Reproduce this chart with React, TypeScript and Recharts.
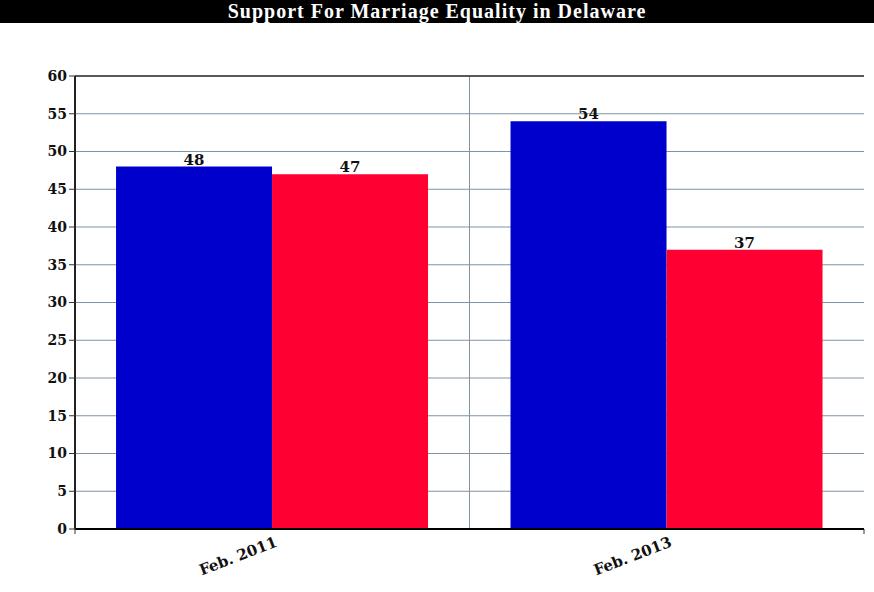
import React from 'react';
import { BarChart, Bar, XAxis, YAxis, CartesianGrid, LabelList, ReferenceLine } from 'recharts';

const periods = ['Feb. 2011', 'Feb. 2013'];
const support = [48, 54];
const oppose = [47, 37];
const yTicks = [0, 5, 10, 15, 20, 25, 30, 35, 40, 45, 50, 55, 60];
const boundaryTicks = [0, 1, 2];

const FONT = '"DejaVu Serif", Georgia, serif';

const data = periods.map((p, i) => ({ period: p, support: support[i], oppose: oppose[i] }));

// rotated category label, anchored by its end at the category centre
function PeriodTick(props: any) {
  const { x, y, payload } = props;
  return (
    <g transform={`translate(${x + 6},${y + 1})`}>
      <text
        textAnchor="end"
        transform="rotate(-21)"
        fontFamily={FONT}
        fontWeight="bold"
        fontSize={15}
        fill="#111"
      >
        {payload.value}
      </text>
    </g>
  );
}

const noLabel = () => <g />;

export default function App() {
  return (
    <div style={{ position: 'absolute', left: 0, top: 0, width: 874, height: 592, background: '#fff' }}>
      <div
        style={{
          height: 23,
          background: '#000',
          color: '#fff',
          textAlign: 'center',
          fontFamily: '"Liberation Serif", serif',
          fontWeight: 'bold',
          fontSize: 20,
          letterSpacing: 1,
          lineHeight: '23px',
        }}
      >
        Support For Marriage Equality in Delaware
      </div>
      <BarChart
        width={874}
        height={569}
        data={data}
        margin={{ top: 53, right: 10, left: 0, bottom: 0 }}
        barCategoryGap="10.4%"
        barGap={0}
      >
        <CartesianGrid
          stroke="#7f93a3"
          strokeWidth={1}
          verticalCoordinatesGenerator={({ offset }: any) => [offset.left + offset.width / 2]}
        />
        <XAxis
          xAxisId="b"
          type="number"
          domain={[0, 2]}
          ticks={boundaryTicks}
          interval={0}
          height={8}
          tick={noLabel}
          tickSize={5}
          tickLine={{ stroke: '#333' }}
          axisLine={false}
        />
        <XAxis
          xAxisId="cat"
          dataKey="period"
          height={55}
          tickLine={false}
          axisLine={false}
          tick={<PeriodTick />}
          interval={0}
        />
        <YAxis
          width={75}
          domain={[0, 60]}
          ticks={yTicks}
          interval={0}
          tickSize={6}
          tickLine={{ stroke: '#333' }}
          axisLine={{ stroke: '#222', strokeWidth: 2 }}
          tick={{ fontFamily: FONT, fontWeight: 'bold', fontSize: 14, fill: '#111' }}
        />
        <ReferenceLine xAxisId="b" y={60} stroke="#333" strokeWidth={1.5} />
        <ReferenceLine xAxisId="b" x={2} stroke="#333" strokeWidth={1.5} />
        <Bar xAxisId="cat" dataKey="support" fill="#0000cc" isAnimationActive={false}>
          <LabelList
            dataKey="support"
            position="top"
            offset={2}
            style={{ fontFamily: FONT, fontWeight: 'bold', fontSize: 15, fill: '#111' }}
          />
        </Bar>
        <Bar xAxisId="cat" dataKey="oppose" fill="#ff0033" isAnimationActive={false}>
          <LabelList
            dataKey="oppose"
            position="top"
            offset={2}
            style={{ fontFamily: FONT, fontWeight: 'bold', fontSize: 15, fill: '#111' }}
          />
        </Bar>
        <ReferenceLine xAxisId="b" y={0} stroke="#000" strokeWidth={2} />
      </BarChart>
    </div>
  );
}
